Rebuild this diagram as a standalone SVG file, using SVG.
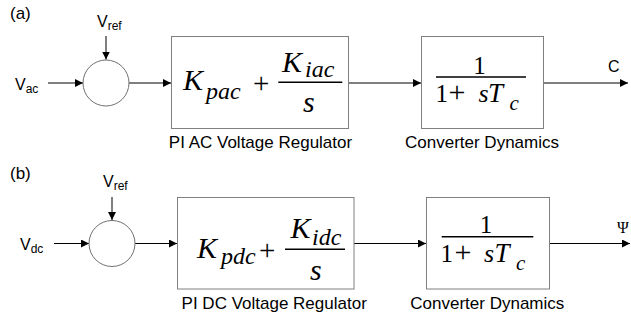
<svg xmlns="http://www.w3.org/2000/svg" width="631" height="321" viewBox="0 0 631 321">
<defs>
<marker id="ah" viewBox="0 0 10 10" refX="10" refY="5" markerWidth="8" markerHeight="8" markerUnits="userSpaceOnUse" orient="auto">
<path d="M0,0 L10,5 L0,10 Z" fill="#000"/>
</marker>
<style>
.box{fill:#fff;stroke:#808080;stroke-width:1}
.sum{fill:#fff;stroke:#707070;stroke-width:1}
.conn{stroke:#000;stroke-width:1;fill:none;marker-end:url(#ah)}
.frac{stroke:#000;stroke-width:1.4}
.lab{font-family:"Liberation Sans",Arial,sans-serif;font-size:17px;fill:#000}
.sig{font-family:"Liberation Sans",Arial,sans-serif;font-size:16px;fill:#000}
.sub{font-size:12px}
.mi{font-family:"Liberation Serif","Times New Roman",serif;font-style:italic;fill:#000}
.mr{font-family:"Liberation Serif","Times New Roman",serif;fill:#000}
</style>
</defs>

<g id="connectors">
<line class="conn" x1="106" y1="36" x2="106" y2="59.5"/>
<line class="conn" x1="48" y1="83" x2="83" y2="83"/>
<line class="conn" x1="129" y1="83" x2="171" y2="83"/>
<line class="conn" x1="348.5" y1="83" x2="421" y2="83"/>
<line class="conn" x1="543.5" y1="83" x2="628" y2="83"/>

<line class="conn" x1="112" y1="197" x2="112" y2="220"/>
<line class="conn" x1="54" y1="243.5" x2="89" y2="243.5"/>
<line class="conn" x1="135" y1="243.5" x2="177" y2="243.5"/>
<line class="conn" x1="354" y1="243.5" x2="426" y2="243.5"/>
<line class="conn" x1="549.5" y1="243.5" x2="630" y2="243.5"/>
</g>

<text class="sig" x="10" y="19" style="font-size:17px">(a)</text>
<text class="sig" x="10" y="179" style="font-size:17px">(b)</text>

<g id="vref-a"><text class="sig" x="97" y="27">V<tspan class="sub" dy="2.5">ref</tspan></text></g>
<g id="vac"><text class="sig" x="15" y="90">V<tspan class="sub" dy="2.5">ac</tspan></text></g>
<g id="sum-a"><circle class="sum" cx="106" cy="83" r="23"/></g>

<g id="pi-ac">
<rect class="box" x="171.5" y="36.5" width="177" height="92"/>
<text class="mi" x="183" y="90" font-size="30">K</text>
<text class="mi" x="206" y="98.5" font-size="24">pac</text>
<text class="mr" x="253" y="93" font-size="29">+</text>
<line class="frac" x1="278.3" y1="82.3" x2="342.3" y2="82.3"/>
<text class="mi" x="282" y="71.7" font-size="30">K</text>
<text class="mi" x="305" y="77" font-size="24">iac</text>
<text class="mi" x="303" y="111.7" font-size="30">s</text>
<text class="lab" x="260.5" y="148" text-anchor="middle">PI AC Voltage Regulator</text>
</g>

<g id="conv-a">
<rect class="box" x="421.5" y="36.5" width="122" height="92"/>
<text class="mr" x="479.5" y="73.5" font-size="25" text-anchor="middle">1</text>
<line class="frac" x1="436" y1="77" x2="526" y2="77"/>
<text class="mr" x="435.5" y="101.7" font-size="25">1</text>
<text class="mr" x="448.5" y="102" font-size="30">+</text>
<text class="mi" x="478.5" y="101.7" font-size="26">s</text>
<text class="mi" x="488" y="101.7" font-size="27">T</text>
<text class="mi" x="509.5" y="110" font-size="21">c</text>
<text class="lab" x="482" y="148" text-anchor="middle">Converter Dynamics</text>
</g>

<g id="out-a"><text class="sig" x="608" y="72">C</text></g>

<g id="vref-b"><text class="sig" x="103" y="187">V<tspan class="sub" dy="2.5">ref</tspan></text></g>
<g id="vdc"><text class="sig" x="20" y="250">V<tspan class="sub" dy="2.5">dc</tspan></text></g>
<g id="sum-b"><circle class="sum" cx="112" cy="243.5" r="23"/></g>

<g id="pi-dc">
<rect class="box" x="177.5" y="197.5" width="176.5" height="91.5"/>
<text class="mi" x="197" y="258.3" font-size="30">K</text>
<text class="mi" x="221" y="264" font-size="24">pdc</text>
<text class="mr" x="259" y="259.5" font-size="29">+</text>
<line class="frac" x1="285" y1="249.3" x2="345" y2="249.3"/>
<text class="mi" x="290.5" y="238.3" font-size="30">K</text>
<text class="mi" x="312" y="245" font-size="24">idc</text>
<text class="mi" x="310" y="280" font-size="30">s</text>
<text class="lab" x="274.2" y="308.5" text-anchor="middle">PI DC Voltage Regulator</text>
</g>

<g id="conv-b">
<rect class="box" x="426.5" y="197.5" width="123" height="91.5"/>
<text class="mr" x="486" y="233.3" font-size="25" text-anchor="middle">1</text>
<line class="frac" x1="441.7" y1="236.7" x2="533.3" y2="236.7"/>
<text class="mr" x="440.5" y="261.7" font-size="25">1</text>
<text class="mr" x="454.5" y="262" font-size="30">+</text>
<text class="mi" x="484" y="261.7" font-size="26">s</text>
<text class="mi" x="494.5" y="261.7" font-size="27">T</text>
<text class="mi" x="516" y="270" font-size="21">c</text>
<text class="lab" x="487.3" y="308.5" text-anchor="middle">Converter Dynamics</text>
</g>

<g id="out-b"><text class="mr" x="617" y="232.7" font-size="16">Ψ</text></g>
</svg>
